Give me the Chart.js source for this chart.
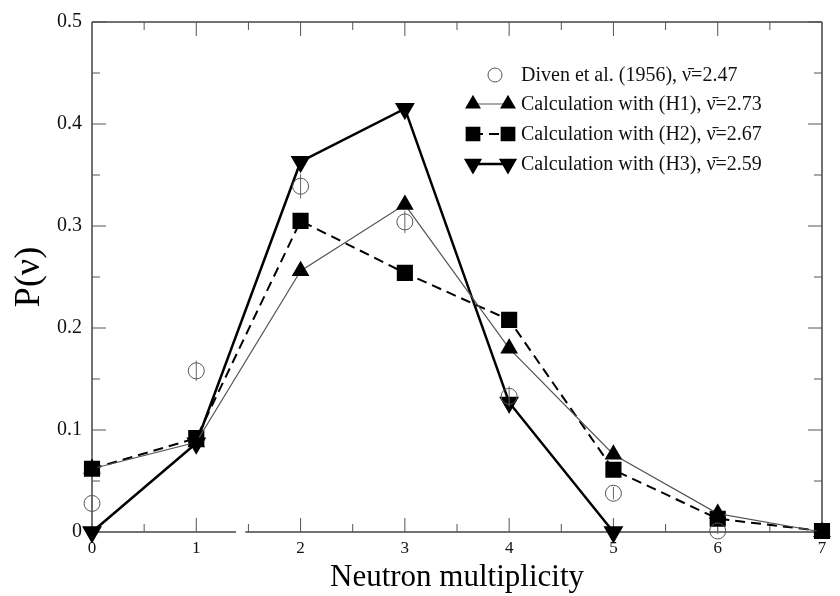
<!DOCTYPE html>
<html>
<head>
<meta charset="utf-8">
<script src="https://cdn.jsdelivr.net/npm/chart.js@4.4.0/dist/chart.umd.min.js"></script>
<style>
  html, body { margin: 0; padding: 0; background: #fff; }
  #wrap { width: 840px; height: 596px; }
</style>
</head>
<body>
<div id="wrap"><canvas id="chart" width="840" height="596"></canvas></div>
<script>
// neutron multiplicity values
const multiplicity = [0, 1, 2, 3, 4, 5, 6, 7];

// measured (Diven et al. 1956) with error bars
const divenX = [0, 1, 2, 3, 4, 5, 6];
const divenP = [0.028, 0.158, 0.339, 0.304, 0.133, 0.038, 0.001];
const divenErr = [0.005, 0.010, 0.012, 0.011, 0.010, 0.006, 0.003];

// calculations
const h1P = [0.062, 0.088, 0.256, 0.321, 0.180, 0.076, 0.018, 0.000];
const h2P = [0.062, 0.092, 0.305, 0.254, 0.208, 0.061, 0.013, 0.001];
const h3X = [0, 1, 2, 3, 4, 5];
const h3P = [0.000, 0.087, 0.363, 0.415, 0.127, 0.000];

const legendLabels = [
  'Diven et al. (1956), \u03BD\u0304=2.47',
  'Calculation with (H1), \u03BD\u0304=2.73',
  'Calculation with (H2), \u03BD\u0304=2.67',
  'Calculation with (H3), \u03BD\u0304=2.59'
];

const xTicks = [0, 1, 2, 3, 4, 5, 6, 7];
const yTicks = [0, 0.1, 0.2, 0.3, 0.4, 0.5];

const SERIF = '"Liberation Serif", "DejaVu Serif", serif';
const pts = (xs, ys) => xs.map((x, i) => ({ x: x, y: ys[i] }));

// frame with inward ticks on all four sides, plus the small break in the bottom axis
const framePlugin = {
  id: 'frame',
  beforeDatasetsDraw(chart) {
    const { ctx, chartArea: a, scales: { x, y } } = chart;
    ctx.save();
    ctx.strokeStyle = '#444';
    ctx.lineWidth = 1.5;
    const gapL = x.getPixelForValue(1.38), gapR = x.getPixelForValue(1.47);
    ctx.beginPath();
    ctx.moveTo(a.left, a.top); ctx.lineTo(a.right, a.top);
    ctx.moveTo(a.right, a.top); ctx.lineTo(a.right, a.bottom);
    ctx.moveTo(a.left, a.top); ctx.lineTo(a.left, a.bottom);
    ctx.moveTo(a.left, a.bottom); ctx.lineTo(gapL, a.bottom);
    ctx.moveTo(gapR, a.bottom); ctx.lineTo(a.right, a.bottom);
    ctx.stroke();
    ctx.lineWidth = 1;
    ctx.strokeStyle = '#555';
    ctx.beginPath();
    for (let v = 0; v <= 7.001; v += 0.5) {
      const px = x.getPixelForValue(v);
      const len = Math.abs(v - Math.round(v)) < 0.01 ? 14 : 8;
      if (v > 0 && v < 7) {
        ctx.moveTo(px, a.bottom); ctx.lineTo(px, a.bottom - len);
        ctx.moveTo(px, a.top); ctx.lineTo(px, a.top + len);
      }
    }
    for (let v = 0.05; v < 0.5; v += 0.05) {
      const py = y.getPixelForValue(v);
      const len = Math.abs(v * 10 - Math.round(v * 10)) < 0.01 ? 14 : 8;
      ctx.moveTo(a.left, py); ctx.lineTo(a.left + len, py);
      ctx.moveTo(a.right, py); ctx.lineTo(a.right - len, py);
    }
    ctx.stroke();
    ctx.restore();
  }
};

// vertical error bars on the measured points
const errorBarPlugin = {
  id: 'errorBars',
  afterDatasetsDraw(chart) {
    const { ctx, scales: { x, y } } = chart;
    ctx.save();
    ctx.strokeStyle = '#666';
    ctx.lineWidth = 1;
    ctx.beginPath();
    divenX.forEach((v, i) => {
      const px = x.getPixelForValue(v);
      ctx.moveTo(px, y.getPixelForValue(divenP[i] - divenErr[i]));
      ctx.lineTo(px, y.getPixelForValue(divenP[i] + divenErr[i]));
    });
    ctx.stroke();
    ctx.restore();
  }
};

// legend in the upper right, marker-line-marker samples
const legendPlugin = {
  id: 'customLegend',
  afterDraw(chart) {
    const { ctx } = chart;
    const rowY = [75, 104, 134, 164];
    const textX = 521;
    ctx.save();
    ctx.font = '20px ' + SERIF;
    ctx.textBaseline = 'middle';
    chart.data.datasets.forEach((ds, i) => {
      const yy = rowY[i];
      if (i === 0) {
        ctx.strokeStyle = ds.pointBorderColor;
        ctx.lineWidth = 1;
        ctx.beginPath(); ctx.arc(495, yy, 7, 0, Math.PI * 2); ctx.stroke();
      } else {
        ctx.strokeStyle = ds.borderColor;
        ctx.lineWidth = ds.borderWidth;
        ctx.setLineDash(ds.borderDash || []);
        ctx.beginPath(); ctx.moveTo(473, yy); ctx.lineTo(508, yy); ctx.stroke();
        ctx.setLineDash([]);
        ctx.fillStyle = '#000';
        ctx.strokeStyle = '#000';
        [473, 508].forEach(px => {
          Chart.helpers.drawPoint(ctx, {
            pointStyle: ds.pointStyle, radius: ds.pointRadius - 1,
            rotation: ds.pointRotation || 0, borderWidth: 1
          }, px, yy);
        });
      }
      ctx.fillStyle = '#111';
      ctx.fillText(legendLabels[i], textX, yy + 1);
    });
    ctx.restore();
  }
};

new Chart(document.getElementById('chart'), {
  type: 'line',
  data: {
    datasets: [
      {
        label: legendLabels[0],
        data: pts(divenX, divenP),
        showLine: false,
        pointStyle: 'circle',
        pointRadius: 8,
        pointBorderWidth: 1,
        pointBorderColor: '#555',
        pointBackgroundColor: 'rgba(0,0,0,0)',
        borderColor: '#555'
      },
      {
        label: legendLabels[1],
        data: pts(multiplicity, h1P),
        borderColor: '#555',
        borderWidth: 1.2,
        pointStyle: 'triangle',
        pointRadius: 9,
        pointBorderColor: '#000',
        pointBackgroundColor: '#000'
      },
      {
        label: legendLabels[2],
        data: pts(multiplicity, h2P),
        borderColor: '#000',
        borderWidth: 2,
        borderDash: [10, 6],
        pointStyle: 'rect',
        pointRadius: 10,
        pointBorderColor: '#000',
        pointBackgroundColor: '#000'
      },
      {
        label: legendLabels[3],
        data: pts(h3X, h3P),
        borderColor: '#000',
        borderWidth: 2.5,
        pointStyle: 'triangle',
        pointRotation: 180,
        pointRadius: 9,
        pointBorderColor: '#000',
        pointBackgroundColor: '#000'
      }
    ]
  },
  options: {
    responsive: false,
    animation: false,
    clip: false,
    layout: { padding: { top: 16, right: 18, left: 0, bottom: 0 } },
    plugins: { legend: { display: false }, tooltip: { enabled: false } },
    elements: { line: { tension: 0 } },
    scales: {
      x: {
        type: 'linear',
        min: 0, max: 7,
        afterFit(scale) { scale.height = 64; },
        afterBuildTicks(scale) { scale.ticks = xTicks.map(v => ({ value: v })); },
        grid: { display: false, drawTicks: false },
        border: { display: false },
        ticks: {
          padding: 6, color: '#111',
          font: { family: SERIF, size: 17 },
          callback: v => String(v)
        },
        title: {
          display: true, text: 'Neutron multiplicity', color: '#000',
          font: { family: SERIF, size: 31 }, padding: { top: 0, bottom: 0 }
        }
      },
      y: {
        min: 0, max: 0.5,
        afterFit(scale) { scale.width = 92; },
        afterBuildTicks(scale) { scale.ticks = yTicks.map(v => ({ value: v })); },
        grid: { display: false, drawTicks: false },
        border: { display: false },
        ticks: {
          padding: 10, color: '#111',
          font: { family: SERIF, size: 20 },
          callback: v => String(Math.round(v * 10) / 10)
        },
        title: {
          display: true, text: 'P(\u03BD)', color: '#000',
          font: { family: SERIF, size: 36 }, padding: { top: 8, bottom: 0 }
        }
      }
    }
  },
  plugins: [framePlugin, errorBarPlugin, legendPlugin]
});
</script>
</body>
</html>
